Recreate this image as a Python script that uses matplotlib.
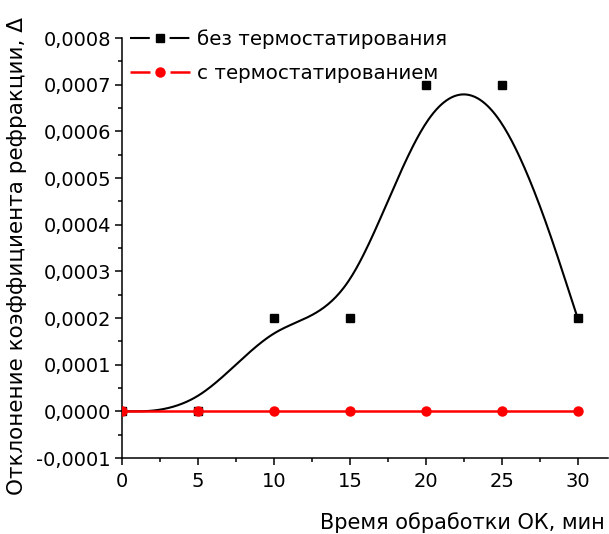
import matplotlib
matplotlib.use("Agg")
import matplotlib.pyplot as plt
import numpy as np
from matplotlib.lines import Line2D
from matplotlib.ticker import FuncFormatter, MultipleLocator

plt.rcParams["font.family"] = ["DejaVu Sans"]

time_min = [0, 5, 10, 15, 20, 25, 30]
no_thermo = [0.0, 0.0, 0.0002, 0.0002, 0.0007, 0.0007, 0.0002]
with_thermo = [0.0, 0.0, 0.0, 0.0, 0.0, 0.0, 0.0]
label_no = "без термостатирования"
label_with = "с термостатированием"


def bspline(px, py, per_seg=60):
    # uniform cubic B-spline, end points tripled so the curve starts/ends on them
    P = np.column_stack([px, py]).astype(float)
    P = np.vstack([P[:1], P[:1], P, P[-1:], P[-1:]])
    M = np.array([[-1, 3, -3, 1], [3, -6, 3, 0], [-3, 0, 3, 0], [1, 4, 1, 0]]) / 6.0
    u = np.linspace(0, 1, per_seg)
    U = np.column_stack([u ** 3, u ** 2, u, np.ones_like(u)])
    pts = [U @ M @ P[i:i + 4] for i in range(len(P) - 3)]
    pts = np.vstack(pts)
    return pts[:, 0], pts[:, 1]


fig = plt.figure(figsize=(6.09, 5.34), dpi=100)
ax = fig.add_axes([122 / 609, 76 / 534, 486 / 609, 420 / 534])

cx, cy = bspline(time_min, no_thermo)
ax.plot(cx, cy, color="black", lw=1.5, zorder=2)
ax.plot(time_min, no_thermo, ls="none", marker="s", ms=5.8, color="black", zorder=3)
ax.plot(time_min, with_thermo, color="#ff0000", lw=1.8, marker="o", ms=6.5, zorder=4)

ax.set_xlim(0, 32)
ax.set_ylim(-0.0001, 0.0008)
ax.xaxis.set_major_locator(MultipleLocator(5))
ax.xaxis.set_minor_locator(MultipleLocator(2.5))
ax.yaxis.set_major_locator(MultipleLocator(0.0001))
ax.yaxis.set_minor_locator(MultipleLocator(0.00005))
ax.yaxis.set_major_formatter(FuncFormatter(lambda v, p: f"{v:.4f}".replace(".", ",").replace("-0,0000", "0,0000")))
for s in ("top", "right"):
    ax.spines[s].set_visible(False)
for s in ("left", "bottom"):
    ax.spines[s].set_linewidth(1.1)
ax.tick_params(which="major", direction="out", length=5, width=1.1, labelsize=14, pad=3)
ax.tick_params(which="minor", direction="out", length=3, width=1.1)
ax.tick_params(axis="x", which="major", pad=5)

ax.set_xlabel("Время обработки ОК, мин", fontsize=15, loc="right")
ax.xaxis.set_label_coords(0.994, -0.128)
ax.set_ylabel("Отклонение коэффициента рефракции, Δ", fontsize=15.5)
ax.yaxis.set_label_coords(-0.195, 0.48)

handles = [
    Line2D([], [], color="black", lw=1.5, dashes=(9.5, 9.5), marker="s", ms=5.8),
    Line2D([], [], color="#ff0000", lw=1.8, dashes=(8, 8), marker="o", ms=6.5),
]
ax.legend(handles, [label_no, label_with], loc="upper left", bbox_to_anchor=(0.0165, 1.02),
          frameon=False, fontsize=14.3, handlelength=3.0, handletextpad=0.35,
          labelspacing=0.75, borderaxespad=0, borderpad=0)

fig.savefig("out.png", dpi=100)
